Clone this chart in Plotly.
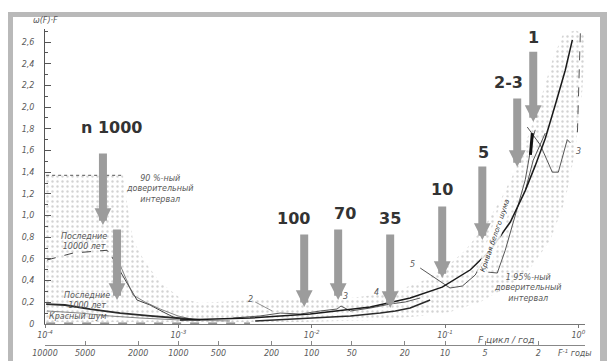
import math
import plotly.graph_objects as go

# ---------------- data ----------------
y_ticks = [0, 0.2, 0.4, 0.6, 0.8, 1.0, 1.2, 1.4, 1.6, 1.8, 2.0, 2.2, 2.4, 2.6]
y_ticktext = ["0", "0,2", "0,4", "0,6", "0,8", "1,0", "1,2", "1,4", "1,6", "1,8", "2,0", "2,2", "2,4", "2,6"]
f_ticks = [1e-4, 1e-3, 1e-2, 1e-1, 1]
f_ticktext = ["10<sup>-4</sup>", "10<sup>-3</sup>", "10<sup>-2</sup>", "10<sup>-1</sup>", "10<sup>0</sup>"]
periods = [10000, 5000, 2000, 1000, 500, 200, 100, 50, 20, 10, 5, 2]

# stippled confidence band
band_upper_f = [1.02e-4, 3.85e-4, 4.20e-4, 4.57e-4, 5.62e-4, 7.30e-4, 1.03e-3, 1.46e-3, 3.45e-3, 8.21e-3,
                1.95e-2, 3.88e-2, 6.52e-2, 0.1005, 0.142, 0.200, 0.260, 0.337, 0.422, 0.519, 0.638, 0.759, 0.948]
band_upper_v = [1.37, 1.37, 1.05, 0.774, 0.571, 0.387, 0.24, 0.194, 0.221, 0.221,
                0.24, 0.286, 0.387, 0.516, 0.68, 0.91, 1.14, 1.42, 1.74, 2.06, 2.43, 2.66, 2.71]
band_lower_f = [1.02e-4, 8.21e-3, 3.27e-2, 6.52e-2, 0.109, 0.184, 0.309, 0.437, 0.617, 0.798, 0.948, 1.072, 1.13]
band_lower_v = [0.018, 0.018, 0.037, 0.074, 0.111, 0.203, 0.359, 0.516, 0.774, 1.14, 1.60, 2.16, 2.66]

interval90_f = [1.02e-4, 3.85e-4]
interval90_v = [1.37, 1.37]

main_f = [1.03e-3, 3.45e-3, 9.75e-3, 2.75e-2, 5.48e-2, 9.53e-2, 0.155, 0.219, 0.309, 0.400, 0.475, 0.565, 0.671, 0.798, 0.902]
main_v = [0.037, 0.055, 0.092, 0.157, 0.24, 0.34, 0.50, 0.68, 0.94, 1.23, 1.46, 1.71, 2.02, 2.34, 2.62]

last10000_dash_f = [1.035e-4, 1.62e-4, 2.92e-4, 3.18e-4]
last10000_dash_v = [0.59, 0.654, 0.68, 0.617]
last10000_f = [3.18e-4, 3.53e-4, 4.12e-4, 4.90e-4, 6.14e-4, 7.69e-4, 9.14e-4, 1.12e-3]
last10000_v = [0.617, 0.525, 0.378, 0.221, 0.175, 0.111, 0.065, 0.046]
last10000b_f = [3.66e-4, 4.06e-4, 4.57e-4, 5.62e-4, 7.30e-4, 9.95e-4, 1.34e-3]
last10000b_v = [0.544, 0.406, 0.267, 0.203, 0.138, 0.074, 0.037]

last1000_f = [1.02e-4, 1.41e-4, 2.18e-4, 3.66e-4, 6.14e-4, 1.12e-3, 1.46e-3]
last1000_v = [0.184, 0.175, 0.138, 0.101, 0.074, 0.046, 0.037]
noise_f = [1.035e-4, 1.83e-4, 3.07e-4, 5.16e-4, 1.03e-3, 2.44e-3]
noise_v = [0.12, 0.101, 0.074, 0.055, 0.037, 0.028]
baseline_f = [1.02e-4, 3.45e-3]
baseline_v = [0.008, 0.008]

mid_a_f = [2.58e-3, 4.10e-3, 5.81e-3, 8.21e-3, 1.16e-2, 1.55e-2, 1.66e-2, 1.95e-2, 2.75e-2, 3.88e-2, 5.04e-2, 6.52e-2]
mid_a_v = [0.055, 0.074, 0.101, 0.092, 0.12, 0.138, 0.166, 0.12, 0.147, 0.184, 0.203, 0.24]
mid_b_f = [3.77e-3, 6.90e-3, 1.16e-2, 1.95e-2, 3.27e-2, 4.24e-2, 5.48e-2, 7.74e-2]
mid_b_v = [0.028, 0.046, 0.055, 0.074, 0.101, 0.12, 0.147, 0.221]
leader2_f = [3.77e-3, 5.06e-3]
leader2_v = [0.203, 0.12]

curve5_f = [6.52e-2, 0.109, 0.135, 0.1686, 0.1905, 0.2075, 0.2466, 0.283, 0.337, 0.400, 0.452, 0.475]
curve5_v = [0.516, 0.332, 0.35, 0.452, 0.571, 0.479, 0.47, 0.68, 1.005, 1.33, 1.70, 1.79]
curve3_f = [0.414, 0.519, 0.638, 0.708, 0.826, 0.871]
curve3_v = [1.816, 1.65, 1.40, 1.40, 1.70, 1.67]
cross_f = [0.565, 0.459, 0.400]
cross_v = [1.76, 1.51, 1.23]
thick_f = [0.452, 0.437]
thick_v = [1.76, 1.56]
upper_dash_f = [1.035, 1.0, 0.982]
upper_dash_v = [2.68, 2.10, 1.72]

# big arrows
arrow_f = [2.72e-4, 3.47e-4, 8.79e-3, 1.58e-2, 3.88e-2, 9.53e-2, 0.1905, 0.348, 0.459]
arrow_tail_v = [1.585, 0.885, 0.839, 0.885, 0.839, 1.097, 1.465, 2.092, 2.525]
arrow_tip_v = [0.912, 0.221, 0.157, 0.221, 0.147, 0.424, 0.774, 1.447, 1.862]
arrow_labels = ["n 1000", "100", "70", "35", "10", "5", "2-3", "1"]
label_f = [3.18e-4, 7.26e-3, 1.78e-2, 3.88e-2, 9.53e-2, 0.1936, 0.2985, 0.459]
label_v = [1.816, 0.977, 1.023, 0.977, 1.244, 1.585, 2.23, 2.645]

# small curve numbers
num_labels = ["2", "3", "4", "5", "3"]
num_f = [3.45e-3, 1.78e-2, 3.05e-2, 5.67e-2, 1.0]
num_v = [0.23, 0.249, 0.286, 0.553, 1.594]

# ---------------- figure ----------------
ML, MR, MT, MB = 45, 22, 29, 8
W, H = 607, 361
PW, PH = W - ML - MR, H - MT - MB


def px_x(px):
    return (px - ML) / PW


def px_y(py):
    return (H - MB - py) / PH


ydom0 = px_y(324)
XR = [-4.0, 0.05]
INK = "#2a2a2a"
TXT = "#5a5a5a"
FONT = "DejaVu Sans"
ital = dict(family=FONT, size=8, color=TXT, style="italic")

fig = go.Figure()

fig.add_trace(go.Scatter(
    x=band_upper_f + band_lower_f[::-1], y=band_upper_v + band_lower_v[::-1],
    mode="lines", fill="toself", fillcolor="rgba(255,255,255,0)",
    fillpattern=dict(shape=".", fgcolor="#a8a8a8", bgcolor="rgba(255,255,255,0)", size=5, solidity=0.18),
    line=dict(width=0), hoverinfo="skip"))


def line(xs, ys, width=1.0, color=INK, dash="solid"):
    fig.add_trace(go.Scatter(x=xs, y=ys, mode="lines",
                             line=dict(width=width, color=color, dash=dash), hoverinfo="skip"))


line(interval90_f, interval90_v, 1.2, "#777", "dot")
line(baseline_f, baseline_v, 1.0, "#555", "dash")
line(last10000_dash_f, last10000_dash_v, 1.0, "#444", "dash")
line(last10000_f, last10000_v, 1.0, "#444")
line(last10000b_f, last10000b_v, 0.8, "#666")
line(last1000_f, last1000_v, 1.8, INK)
line(noise_f, noise_v, 0.8, "#666")
line(mid_a_f, mid_a_v, 0.9, "#444")
line(mid_b_f, mid_b_v, 1.6, INK)
line(leader2_f, leader2_v, 0.7, "#666")
line(curve5_f, curve5_v, 0.9, "#444")
line(curve3_f, curve3_v, 0.9, "#444")
line(cross_f, cross_v, 0.9, "#444")
line(thick_f, thick_v, 3.0, "#111")
line(upper_dash_f, upper_dash_v, 1.0, "#555", "dash")
line(main_f, main_v, 1.5, "#1a1a1a")

# invisible trace on the period axis
fig.add_trace(go.Scatter(x=[f_ticks[0], f_ticks[-1]], y=[0, 0], xaxis="x2", mode="lines",
                         line=dict(width=0), opacity=0, hoverinfo="skip"))

# arrows
for f, t0, t1 in zip(arrow_f, arrow_tail_v, arrow_tip_v):
    lx = math.log10(f)
    fig.add_annotation(x=lx, y=t1, ax=lx, ay=t0, xref="x", yref="y", axref="x", ayref="y",
                       text="", showarrow=True, arrowhead=2, arrowwidth=8, arrowsize=0.42,
                       arrowcolor="#9c9c9c")
for t, f, v in zip(arrow_labels, label_f, label_v):
    fig.add_annotation(x=math.log10(f), y=v, xref="x", yref="y", text=t, showarrow=False,
                       xanchor="center", yanchor="middle",
                       font=dict(family=FONT, size=16, color="#333", weight="bold"))
for t, f, v in zip(num_labels, num_f, num_v):
    fig.add_annotation(x=math.log10(f), y=v, xref="x", yref="y", text=t, showarrow=False,
                       xanchor="center", yanchor="middle", font=ital)


def ptext(t, x, y, **kw):
    fig.add_annotation(x=px_x(x), y=px_y(y), xref="paper", yref="paper", text=t, showarrow=False,
                       xanchor="center", yanchor="middle", align="center", **kw)


# descriptive texts
ptext("90 %-ный<br>доверительный<br>интервал", 160, 189, font=ital)
ptext("Последние<br>10000 лет", 84, 241, font=ital)
ptext("Последние<br>1000 лет", 87, 300, font=ital)
ptext("Красный шум", 77, 316, font=ital)
ptext("1 95%-ный<br>доверительный<br>интервал", 528, 288, font=ital)
ptext("Кривая белого шума", 495, 236, textangle=-71,
      font=dict(family=FONT, size=7, color="#333", style="italic"), bgcolor="rgba(255,255,255,0.85)")
ptext("ω(F)·F", 45, 21, font=ital)
ptext("F цикл / год", 506, 340, font=dict(family=FONT, size=9, color=TXT, style="italic"))
ptext("F<sup>-1</sup> годы", 575, 353, font=ital)

# frame decoration
frame = "#b9b9b9"
shapes = [
    dict(type="rect", xref="paper", yref="paper", x0=px_x(8), x1=px_x(13), y0=px_y(365), y1=px_y(12),
         fillcolor=frame, line=dict(width=0), layer="below"),
    dict(type="rect", xref="paper", yref="paper", x0=px_x(8), x1=px_x(607), y0=px_y(17), y1=px_y(12),
         fillcolor=frame, line=dict(width=0), layer="below"),
    dict(type="rect", xref="paper", yref="paper", x0=px_x(600), x1=px_x(607), y0=px_y(365), y1=px_y(12),
         fillcolor=frame, line=dict(width=0), layer="below"),
]

fig.update_layout(
    width=W, height=H, margin=dict(l=ML, r=MR, t=MT, b=MB, autoexpand=False),
    paper_bgcolor="white", plot_bgcolor="white", showlegend=False, shapes=shapes,
    xaxis=dict(type="log", range=XR, tickvals=f_ticks, ticktext=f_ticktext, showgrid=False,
               zeroline=False, showline=True, linecolor="#777", linewidth=1, ticks="outside",
               ticklen=3, tickcolor="#777", tickfont=ital, anchor="y", automargin=False),
    xaxis2=dict(type="log", range=XR, overlaying="x", anchor="free", position=px_y(345), side="bottom",
                tickvals=[1 / p for p in periods], ticktext=[str(p) for p in periods], showgrid=False,
                zeroline=False, showline=True, linecolor="#888", linewidth=1, ticks="inside", ticklen=4,
                tickcolor="#888", tickfont=ital, automargin=False),
    yaxis=dict(range=[0, 2.72], domain=[ydom0, 1], tickvals=y_ticks, ticktext=y_ticktext, showgrid=False,
               zeroline=False, showline=True, linecolor="#555", linewidth=1, ticks="inside", ticklen=6,
               tickcolor="#555", tickfont=ital, ticklabelstandoff=8, automargin=False,
               minor=dict(tickmode="array", tickvals=[v + 0.1 for v in y_ticks], ticks="inside",
                          ticklen=3, tickcolor="#555")),
)

fig.write_html("out.html", config={"displayModeBar": False},
               post_script="document.body.style.margin='0';document.body.style.overflow='hidden';")
